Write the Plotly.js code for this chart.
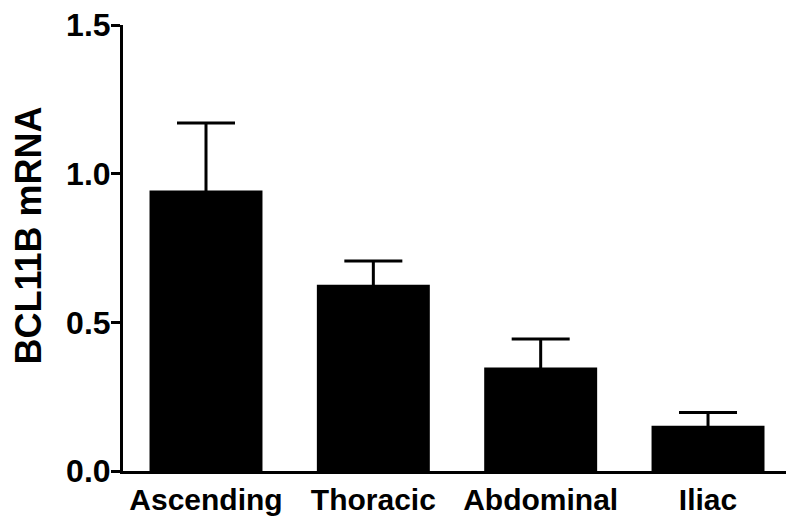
<!DOCTYPE html>
<html>
<head>
<meta charset="utf-8">
<script src="https://cdn.plot.ly/plotly-3.0.1.min.js"></script>
<style>html,body{margin:0;padding:0;background:#fff;}#chart{width:786px;height:516px;}</style>
</head>
<body>
<div id="chart"></div>
<script>
const categories = ["Ascending", "Thoracic", "Abdominal", "Iliac"];
const meanValues = [0.943, 0.626, 0.348, 0.152];
const errorValues = [0.227, 0.080, 0.096, 0.045];
const yTickValues = [0, 0.5, 1.0, 1.5];
const yTickLabels = ["0.0", "0.5", "1.0", "1.5"];
const yAxisTitle = "BCL11B mRNA";

const fontFamily = "Liberation Sans, Arial, sans-serif";

const trace = {
  type: "bar",
  x: categories,
  y: meanValues,
  width: 0.675,
  marker: { color: "#000000", line: { width: 0 } },
  error_y: {
    type: "data",
    symmetric: true,
    array: errorValues,
    color: "#000000",
    thickness: 3,
    width: 29
  },
  hoverinfo: "none"
};

const layout = {
  width: 786,
  height: 516,
  margin: { l: 123, r: 0, t: 25, b: 45 },
  paper_bgcolor: "#ffffff",
  plot_bgcolor: "#ffffff",
  showlegend: false,
  xaxis: {
    type: "category",
    range: [-0.496, 3.466],
    showline: true,
    linecolor: "#000000",
    linewidth: 3,
    ticks: "",
    showgrid: false,
    zeroline: false,
    tickfont: { family: fontFamily, size: 30, color: "#000000", weight: "bold" },
    ticklabelstandoff: 0
  },
  yaxis: {
    range: [0, 1.5],
    showline: true,
    linecolor: "#000000",
    linewidth: 3,
    ticks: "outside",
    ticklen: 9,
    tickwidth: 3,
    tickcolor: "#000000",
    tickvals: yTickValues,
    ticktext: yTickLabels,
    showgrid: false,
    zeroline: false,
    automargin: false,
    tickfont: { family: fontFamily, size: 32, color: "#000000", weight: "bold" },
    ticklabelstandoff: -6
  },
  annotations: [{
    text: yAxisTitle,
    xref: "paper", yref: "paper",
    x: -0.1425, y: 0.527,
    xanchor: "center", yanchor: "middle",
    textangle: -90,
    showarrow: false,
    font: { family: fontFamily, size: 36, color: "#000000", weight: "bold" }
  }]
};

Plotly.newPlot("chart", [trace], layout, { displayModeBar: false, staticPlot: true });
</script>
</body>
</html>
